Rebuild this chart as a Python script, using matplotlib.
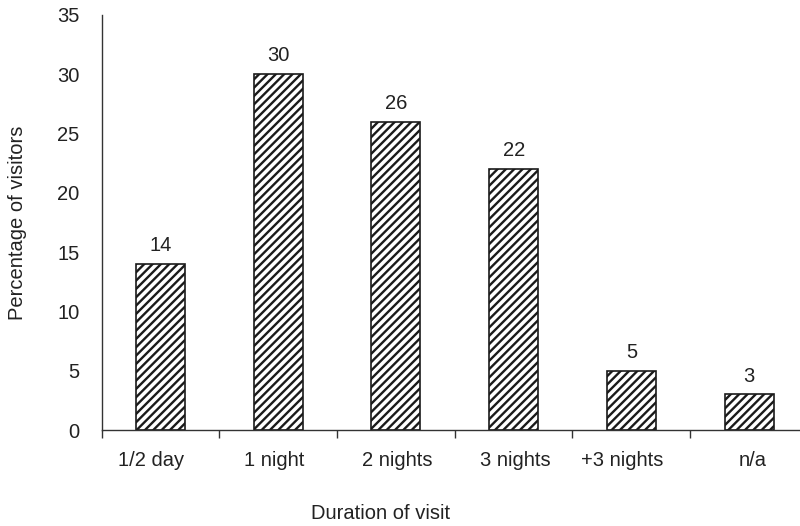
import matplotlib
matplotlib.use("Agg")
import matplotlib.pyplot as plt
import matplotlib.transforms as mtransforms
import numpy as np

categories = ["1/2 day", "1 night", "2 nights", "3 nights", "+3 nights", "n/a"]
percentages = [14, 30, 26, 22, 5, 3]

plt.rcParams['font.family'] = ['Liberation Sans', 'DejaVu Sans']
plt.rcParams['hatch.linewidth'] = 1.7
plt.rcParams['hatch.color'] = '#1a1a1a'

fig = plt.figure(figsize=(8.0, 5.26), dpi=100)
ax = fig.add_axes([0.1271, 0.1825, 0.8729, 0.789])

x = np.arange(len(categories))
ax.bar(x, percentages, width=0.416, color='white', edgecolor='#1a1a1a',
       linewidth=1.2, hatch='////')

for xi, v in zip(x, percentages):
    ax.text(xi, v + 0.75, f"{v}", ha='center', va='bottom', fontsize=14.5, color='#222222')

ax.set_yticks(np.arange(0, 36, 5))
ax.set_xticks(x)
ax.set_xticklabels(categories, fontsize=14.5, color='#222222')
ax.set_xticks(np.arange(-0.5, 5.0, 1), minor=True)
ax.set_xlim(-0.5, 5.433)
ax.set_ylim(0, 35)
ax.tick_params(axis='x', which='major', length=0, pad=15)
ax.tick_params(axis='x', which='minor', length=6, width=1, direction='out', color='#333333')
ax.tick_params(axis='y', length=0, labelsize=14.5, pad=16, colors='#222222')

# small hand-set horizontal nudges for the category labels (pixels)
label_shift_px = [-9.5, -4.2, 1.1, 1.4, -9.0, 4.0]
for lbl, dx in zip(ax.get_xticklabels(), label_shift_px):
    lbl.set_transform(lbl.get_transform() +
                      mtransforms.ScaledTranslation(dx / fig.dpi, 0, fig.dpi_scale_trans))

for side in ['top', 'right']:
    ax.spines[side].set_visible(False)
for side in ['left', 'bottom']:
    ax.spines[side].set_color('#333333')
    ax.spines[side].set_linewidth(1.0)

ax.set_xlabel("Duration of visit", fontsize=14.5, color='#222222', va='center')
ax.xaxis.set_label_coords(0.40, -0.202)
ax.set_ylabel("Percentage of visitors", fontsize=14.5, color='#222222', va='center')
ax.yaxis.set_label_coords(-0.1206, 0.5)

fig.savefig("out.png", dpi=100)
